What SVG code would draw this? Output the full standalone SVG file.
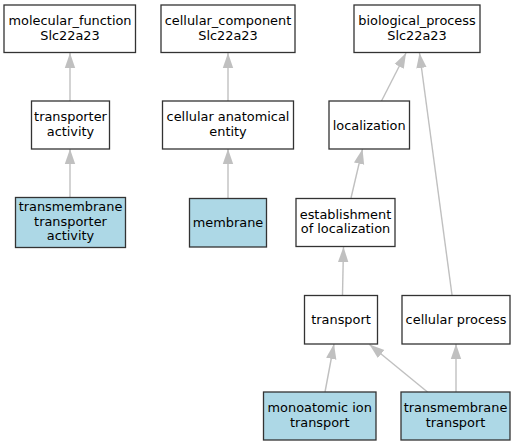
<svg xmlns="http://www.w3.org/2000/svg" width="516" height="445" viewBox="0 0 516 445">
<defs>
<style>
.n rect{fill:#fff;stroke:#333;stroke-width:1.3}
.n.h rect{fill:#add8e6}
.n text{font-family:"DejaVu Sans",sans-serif;font-size:12.9px;fill:#000;text-anchor:middle}
#edges line{stroke:#c0c0c0;stroke-width:1.4;marker-end:url(#ah)}
</style>
<marker id="ah" markerUnits="userSpaceOnUse" markerWidth="16" markerHeight="12" viewBox="0 0 16 12" refX="15" refY="6" orient="auto">
<path d="M0,0.8 L15,6 L0,11.2 Z" fill="#c0c0c0"/>
</marker>
</defs>
<rect width="516" height="445" fill="#fff"/>
<g id="edges">
<line x1="70" y1="197" x2="70" y2="149"/>
<line x1="70" y1="101" x2="70" y2="53"/>
<line x1="228" y1="198" x2="228" y2="149"/>
<line x1="228" y1="101" x2="228" y2="53"/>
<line x1="381.5" y1="101" x2="406" y2="53"/>
<line x1="351" y1="198" x2="362.5" y2="149"/>
<line x1="452" y1="295" x2="419.5" y2="53"/>
<line x1="342.5" y1="295" x2="343.5" y2="247"/>
<line x1="325" y1="392" x2="334" y2="344"/>
<line x1="427.5" y1="392" x2="369.5" y2="344.5"/>
<line x1="456" y1="392" x2="456" y2="344"/>
</g>
<g id="mf" class="n"><rect x="4" y="5" width="131.5" height="47.5"/><text x="70" y="25">molecular_function</text><text x="70" y="39.5">Slc22a23</text></g>
<g id="cc" class="n"><rect x="161" y="5" width="134" height="47.5"/><text x="228" y="25">cellular_component</text><text x="228" y="39.5">Slc22a23</text></g>
<g id="bp" class="n"><rect x="354" y="5" width="126" height="47.5"/><text x="417" y="25">biological_process</text><text x="417" y="39.5">Slc22a23</text></g>
<g id="ta" class="n"><rect x="31.5" y="101" width="78" height="48"/><text x="70.5" y="121">transporter</text><text x="70.5" y="135.5">activity</text></g>
<g id="cae" class="n"><rect x="162.5" y="101" width="131" height="48"/><text x="228" y="121">cellular anatomical</text><text x="228" y="135.5">entity</text></g>
<g id="loc" class="n"><rect x="329" y="101" width="80.5" height="48"/><text x="369.2" y="129.5">localization</text></g>
<g id="tta" class="n h"><rect x="15.5" y="197.5" width="110" height="50"/><text x="70.5" y="211">transmembrane</text><text x="70.5" y="225.5">transporter</text><text x="70.5" y="240">activity</text></g>
<g id="mem" class="n h"><rect x="189.5" y="198.5" width="77" height="48.5"/><text x="228" y="226.5">membrane</text></g>
<g id="eol" class="n"><rect x="296" y="198.5" width="99" height="48"/><text x="345.5" y="218.5">establishment</text><text x="345.5" y="233">of localization</text></g>
<g id="tr" class="n"><rect x="304.5" y="295.5" width="73" height="48.5"/><text x="341" y="323.5">transport</text></g>
<g id="cp" class="n"><rect x="402" y="295.5" width="108" height="48.5"/><text x="456" y="323.5">cellular process</text></g>
<g id="mit" class="n h"><rect x="263.5" y="392" width="112.5" height="48"/><text x="319.7" y="412">monoatomic ion</text><text x="319.7" y="426.5">transport</text></g>
<g id="tmt" class="n h"><rect x="401" y="392" width="109" height="48"/><text x="455.5" y="412">transmembrane</text><text x="455.5" y="426.5">transport</text></g>
</svg>
